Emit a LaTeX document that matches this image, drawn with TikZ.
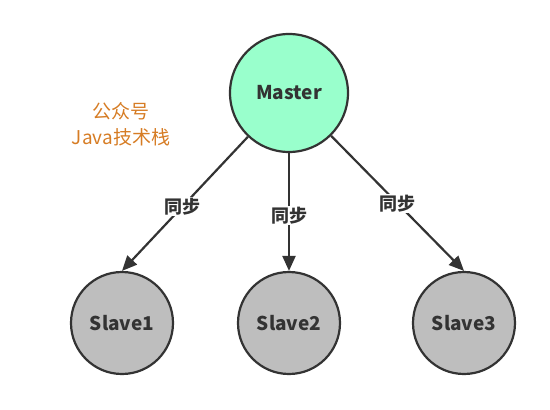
\documentclass[tikz,border=0pt]{standalone}
\usepackage{fontspec}
\setmainfont{Noto Sans CJK SC}
\usetikzlibrary{arrows.meta}
\definecolor{masterfill}{RGB}{153,255,204}
\definecolor{slavefill}{RGB}{190,190,190}
\definecolor{edgecol}{RGB}{51,51,51}
\definecolor{orangetxt}{RGB}{214,124,36}
\newcommand{\lowertext}[1]{\raisebox{-3pt}{#1}}
\tikzset{
  masternode/.style={circle, draw=edgecol, line width=2.2pt, fill=masterfill, minimum size=118pt, inner sep=0pt, text=edgecol, font=\fontsize{19}{21}\selectfont\bfseries},
  slavenode/.style={circle, draw=edgecol, line width=2.2pt, fill=slavefill, minimum size=102pt, inner sep=0pt, text=edgecol, font=\fontsize{19}{21}\selectfont\bfseries},
  syncarrow/.style={draw=edgecol, line width=2.2pt, -{Triangle[length=15pt, width=13pt]}},
  synclabel/.style={fill=white, inner sep=1pt, text=edgecol, font=\fontsize{18}{20}\selectfont\bfseries},
  notetext/.style={align=center, text=orangetxt, font=\fontsize{19}{26}\selectfont}
}
\begin{document}
\begin{tikzpicture}[x=1pt, y=-1pt]
\useasboundingbox (0,0) rectangle (550,410);
\node[masternode] (master) at (289,93) {\lowertext{Master}};
\node[slavenode] (s1) at (122,323) {\lowertext{Slave1}};
\node[slavenode] (s2) at (289,323) {\lowertext{Slave2}};
\node[slavenode] (s3) at (464,323) {\lowertext{Slave3}};
\node[notetext] (note) at (121,124) {公众号\\Java技术栈};
\draw[syncarrow] (master) -- node[synclabel, pos=0.52] (l1) {同步} (s1.north);
\draw[syncarrow] (master) -- node[synclabel, pos=0.53] (l2) {同步} (s2.north);
\draw[syncarrow] (master) -- node[synclabel, pos=0.5] (l3) {同步} (s3.north);
\end{tikzpicture}
\end{document}
